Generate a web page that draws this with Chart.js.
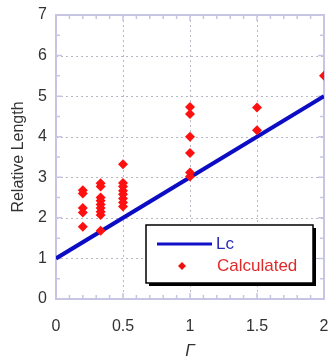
<!DOCTYPE html>
<html>
<head>
<meta charset="utf-8">
<script src="https://cdn.jsdelivr.net/npm/chart.js@4"></script>
<style>
  body { margin: 0; background: #ffffff; }
  #box { width: 336px; height: 362px; }
</style>
</head>
<body>
<div id="box"><canvas id="grafico" width="336" height="362"></canvas></div>
<script>
var gamaLinha = [0, 2];
var lcLinha = [1, 5];

var gamaPontos = [0.2, 0.2, 0.2, 0.2, 0.2,
  0.333, 0.333, 0.333, 0.333, 0.333, 0.333, 0.333, 0.333, 0.333,
  0.5, 0.5, 0.5, 0.5, 0.5, 0.5, 0.5, 0.5,
  1, 1, 1, 1, 1, 1,
  1.5, 1.5,
  2];
var calculado = [2.68, 2.6, 2.24, 2.13, 1.78,
  2.85, 2.77, 2.5, 2.42, 2.33, 2.24, 2.15, 2.07, 1.68,
  3.32, 2.86, 2.77, 2.67, 2.58, 2.48, 2.38, 2.28,
  4.73, 4.56, 4.0, 3.6, 3.12, 3.02,
  4.72, 4.16,
  5.5];

var xTicks = [0, 0.5, 1, 1.5, 2];
var yTicks = [0, 1, 2, 3, 4, 5, 6, 7];

var fonte = "'Liberation Sans', Arial, sans-serif";

function montaPontos(xs, ys) {
  var out = [];
  for (var k = 0; k < xs.length; k++) {
    out.push({x: xs[k], y: ys[k]});
  }
  return out;
}

// dotted grid, frame and small inner ticks, like the original plot
var moldura = {
  id: 'moldura',
  beforeDatasetsDraw: function(chart) {
    var c = chart.ctx;
    var a = chart.chartArea;
    var sx = chart.scales.x;
    var sy = chart.scales.y;
    var v, p, len, k;
    c.save();
    c.strokeStyle = '#b8b8c4';
    c.lineWidth = 1;
    c.setLineDash([2, 3]);
    for (k = 1; k < xTicks.length - 1; k++) {
      p = Math.round(sx.getPixelForValue(xTicks[k])) + 0.5;
      c.beginPath(); c.moveTo(p, a.top); c.lineTo(p, a.bottom); c.stroke();
    }
    for (k = 1; k < yTicks.length - 1; k++) {
      p = Math.round(sy.getPixelForValue(yTicks[k])) + 0.5;
      c.beginPath(); c.moveTo(a.left, p); c.lineTo(a.right, p); c.stroke();
    }
    c.setLineDash([]);
    c.strokeStyle = '#c6c6e4';
    c.lineWidth = 1.5;
    for (v = 0; v <= 20; v++) {
      p = sx.getPixelForValue(v / 10);
      len = (v % 5 == 0) ? 6 : 4;
      c.beginPath();
      c.moveTo(p, a.bottom); c.lineTo(p, a.bottom - len);
      c.moveTo(p, a.top); c.lineTo(p, a.top + len);
      c.stroke();
    }
    for (v = 0; v <= 14; v++) {
      p = sy.getPixelForValue(v / 2);
      len = (v % 2 == 0) ? 6 : 4;
      c.beginPath();
      c.moveTo(a.left, p); c.lineTo(a.left + len, p);
      c.moveTo(a.right, p); c.lineTo(a.right - len, p);
      c.stroke();
    }
    c.lineWidth = 2;
    c.strokeRect(a.left, a.top, a.right - a.left, a.bottom - a.top);
    c.restore();
  }
};

// boxed legend with a shadow inside the plot
var legendaBox = {
  id: 'legendaBox',
  afterDatasetsDraw: function(chart) {
    var c = chart.ctx;
    var x0 = 146, y0 = 225, w = 167, h = 58;
    c.save();
    c.fillStyle = '#000000';
    c.fillRect(x0 + 3, y0 + 3, w, h);
    c.fillStyle = '#ffffff';
    c.fillRect(x0, y0, w, h);
    c.strokeStyle = '#000000';
    c.lineWidth = 1.5;
    c.strokeRect(x0, y0, w, h);

    c.strokeStyle = '#1010c8';
    c.lineWidth = 3;
    c.beginPath();
    c.moveTo(157, 244); c.lineTo(212, 244);
    c.stroke();

    c.fillStyle = '#ee1111';
    c.beginPath();
    c.moveTo(182, 262); c.lineTo(186, 266); c.lineTo(182, 270); c.lineTo(178, 266);
    c.closePath();
    c.fill();

    c.font = '17px ' + fonte;
    c.textBaseline = 'middle';
    c.textAlign = 'left';
    c.fillStyle = '#2a2ab4';
    c.fillText('Lc', 216, 244);
    c.fillStyle = '#e02a2a';
    c.fillText('Calculated', 217, 266);
    c.restore();
  }
};

var ctx = document.getElementById('grafico').getContext('2d');
var myChart = new Chart(ctx, {
  type: 'scatter',
  data: {
    datasets: [
      {
        label: 'Lc',
        type: 'line',
        data: montaPontos(gamaLinha, lcLinha),
        borderColor: '#0c0cc4',
        borderWidth: 4,
        pointRadius: 0,
        fill: false,
        order: 2
      },
      {
        label: 'Calculated',
        data: montaPontos(gamaPontos, calculado),
        pointStyle: 'rectRot',
        pointRadius: 5,
        backgroundColor: '#ff1010',
        borderColor: '#ff1010',
        borderWidth: 0,
        order: 1
      }
    ]
  },
  options: {
    responsive: false,
    animation: false,
    layout: { padding: { top: 15, right: 12, left: 5, bottom: 0 } },
    plugins: {
      legend: { display: false },
      tooltip: { enabled: false }
    },
    scales: {
      x: {
        type: 'linear',
        min: 0, max: 2,
        afterBuildTicks: function(s) { s.ticks = xTicks.map(function(v) { return {value: v}; }); },
        afterFit: function(s) { s.height = 63; s.paddingRight = 0; s.paddingLeft = 0; },
        grid: { display: false, drawTicks: false },
        border: { display: false },
        ticks: { color: '#333333', font: { size: 16, family: fonte }, padding: 18, maxRotation: 0,
          callback: function(v) { return String(v); } },
        title: { display: true, text: 'Γ', color: '#333333',
          font: { size: 17, family: fonte, style: 'italic' }, padding: { top: 0, bottom: 1 } }
      },
      y: {
        type: 'linear',
        min: 0, max: 7,
        afterBuildTicks: function(s) { s.ticks = yTicks.map(function(v) { return {value: v}; }); },
        afterFit: function(s) { s.width = 51; s.paddingTop = 0; s.paddingBottom = 0; },
        grid: { display: false, drawTicks: false },
        border: { display: false },
        ticks: { color: '#333333', font: { size: 16, family: fonte }, padding: 9 },
        title: { display: true, text: 'Relative Length', color: '#333333',
          font: { size: 16, family: fonte }, padding: { bottom: 4 } }
      }
    }
  },
  plugins: [moldura, legendaBox]
});
</script>
</body>
</html>
